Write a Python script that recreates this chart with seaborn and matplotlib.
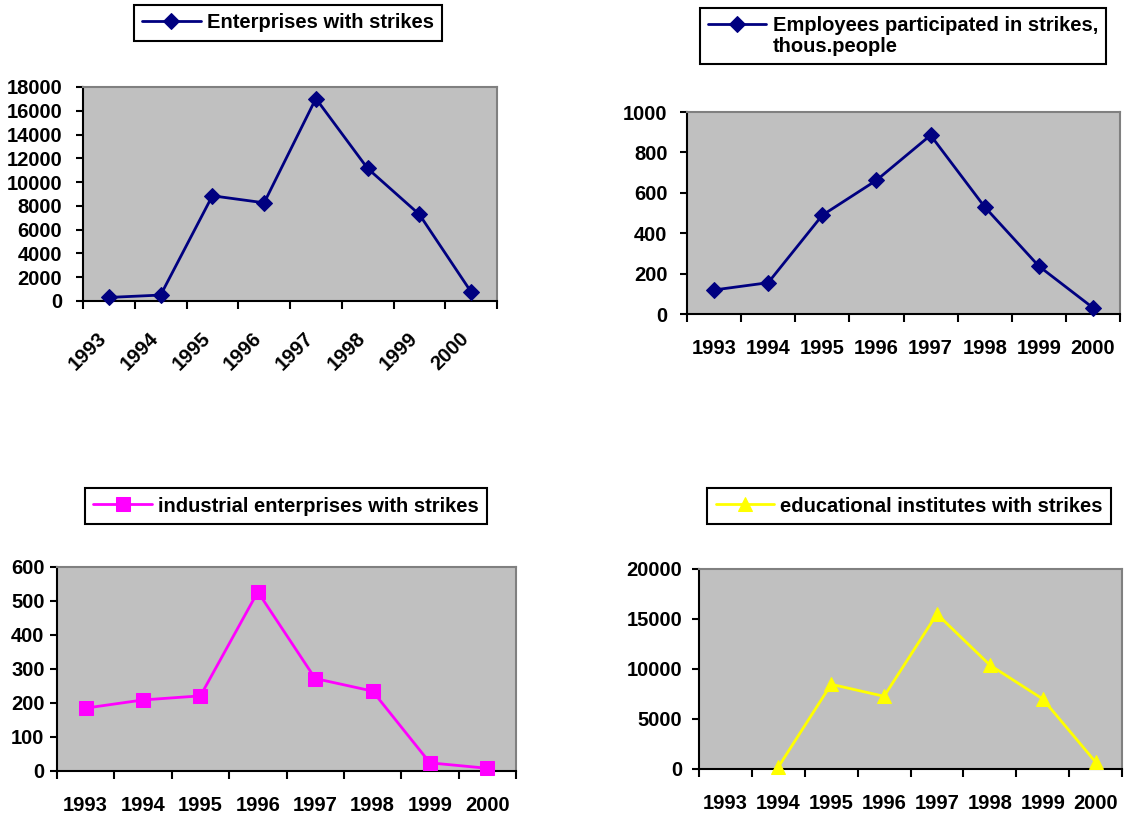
import numpy as np
import pandas as pd
import matplotlib
matplotlib.use("Agg")
import matplotlib.pyplot as plt
from matplotlib.lines import Line2D
from matplotlib.transforms import ScaledTranslation
import seaborn as sns

# data
years = [1993, 1994, 1995, 1996, 1997, 1998, 1999, 2000]
enterprises = [300, 500, 8850, 8260, 17030, 11150, 7280, 760]
employees = [119, 155, 489, 662, 885, 530, 237, 31]
industrial = [185, 209, 221, 527, 272, 235, 24, 8]
educational = [np.nan, 200, 8470, 7270, 15500, 10400, 7000, 700]

sns.set_theme(style="white")
plt.rcParams["font.family"] = ["Liberation Sans", "DejaVu Sans"]
plt.rcParams["font.weight"] = "bold"
plt.rcParams["text.color"] = "black"

W, H = 1137, 814
FS = 14.5
fig = plt.figure(figsize=(W / 100, H / 100), dpi=100)


def px_rect(left, top, right, bottom):
    return [left / W, 1 - bottom / H, (right - left) / W, (bottom - top) / H]


panels = [
    dict(values=enterprises, labels=["Enterprises with strikes"], color="#000080",
         marker="D", ms=8, rect=(83, 87, 497, 301), ymax=18000, ystep=2000,
         leg=(288, 23), rotate=True, ypad=10),
    dict(values=employees, labels=["Employees participated in strikes,", "thous.people"],
         color="#000080", marker="D", ms=8, rect=(687, 112, 1120, 314), ymax=1000,
         ystep=200, leg=(903, 36), rotate=False, ypad=9),
    dict(values=industrial, labels=["industrial enterprises with strikes"], color="#FF00FF",
         marker="s", ms=10, rect=(57, 567, 516, 771), ymax=600, ystep=100,
         leg=(286, 506), rotate=False, ypad=4),
    dict(values=educational, labels=["educational institutes with strikes"], color="#FFFF00",
         marker="^", ms=10, rect=(699, 569, 1122, 769), ymax=20000, ystep=5000,
         leg=(909, 506), rotate=False, ypad=7),
]

for p in panels:
    ax = fig.add_axes(px_rect(*p["rect"]))
    ax.set_facecolor("#C0C0C0")
    df = pd.DataFrame({"year": years, "value": p["values"]})
    sns.lineplot(data=df, x="year", y="value", ax=ax, color=p["color"],
                 marker=p["marker"], markersize=p["ms"], markeredgecolor=p["color"],
                 linewidth=2, estimator=None, label=p["labels"][0],
                 clip_on=False, zorder=3, legend=False)
    ax.set(xlabel="", ylabel="")

    # category style x axis: marks on boundaries, labels in the middle
    ax.set_xlim(years[0] - 0.5, years[-1] + 0.5)
    ax.set_xticks(np.arange(years[0] - 0.5, years[-1] + 1), labels=[])
    ax.set_xticks(years, labels=[str(y) for y in years], minor=True)
    ax.tick_params(axis="x", which="major", bottom=True, length=6, width=1.5,
                   color="black", direction="out")
    ax.tick_params(axis="x", which="minor", bottom=True, length=0, pad=18,
                   labelsize=FS, labelcolor="black")

    ax.set_ylim(0, p["ymax"])
    ax.set_yticks(np.arange(0, p["ymax"] + p["ystep"], p["ystep"]))
    ax.tick_params(axis="y", left=True, length=5, width=1.5, color="black",
                   direction="out", pad=p["ypad"], labelsize=FS, labelcolor="black")

    if p["rotate"]:
        ax.tick_params(axis="x", which="minor", pad=20)
        shift = ScaledTranslation(-12 / 100, 0, fig.dpi_scale_trans)
        for t in ax.get_xticklabels(minor=True):
            t.set_rotation(45)
            t.set_ha("right")
            t.set_va("top")
            t.set_rotation_mode("anchor")
            t.set_transform(t.get_transform() + shift)

    for side in ["left", "bottom"]:
        ax.spines[side].set_color("black")
        ax.spines[side].set_linewidth(1.5)
    for side in ["top", "right"]:
        ax.spines[side].set_color("#808080")
        ax.spines[side].set_linewidth(1.5)

    handles, _ = ax.get_legend_handles_labels()
    labels = list(p["labels"])
    if len(labels) > 1:
        handles = handles + [Line2D([], [], linestyle="none")]
    leg = ax.legend(handles[:len(labels)], labels, loc="center",
                    bbox_to_anchor=(p["leg"][0] / W, 1 - p["leg"][1] / H),
                    bbox_transform=fig.transFigure, fancybox=False, framealpha=1,
                    edgecolor="black", fontsize=FS, handlelength=2.9,
                    handletextpad=0.3, labelspacing=0.1, borderpad=0.4,
                    borderaxespad=0)
    leg.get_frame().set_linewidth(1.5)

fig.savefig("out.png", dpi=100)
